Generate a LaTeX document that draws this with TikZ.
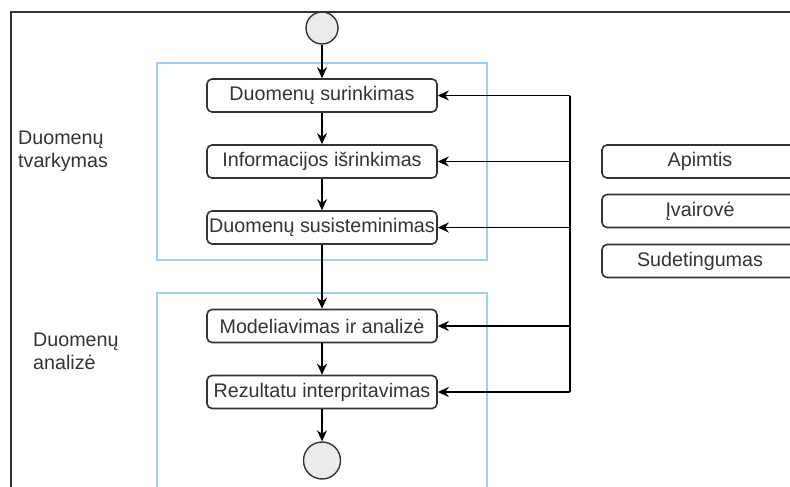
\documentclass[tikz,border=0pt]{standalone}
\usepackage{fontspec}
\setmainfont{Liberation Sans}
\usepackage{xcolor}
\usetikzlibrary{positioning,arrows.meta}

\definecolor{boxline}{RGB}{51,51,51}
\definecolor{groupline}{RGB}{160,205,255}
\definecolor{termfill}{RGB}{235,235,235}

\begin{document}
\begin{tikzpicture}[x=1pt, y=-1pt, node distance=66pt, on grid,
    activity/.style={draw=boxline, line width=1.6pt, rounded corners=5pt,
        minimum width=230pt, minimum height=33pt, inner sep=0pt,
        text=boxline, font=\fontsize{19.7}{23}\selectfont},
    aspect/.style={activity, minimum width=196pt},
    terminal/.style={circle, draw=boxline, line width=1.4pt, fill=termfill,
        minimum size=32pt, inner sep=0pt},
    phase/.style={align=left, anchor=west, inner sep=0pt, text=boxline,
        font=\fontsize{19.7}{23}\selectfont},
    group/.style={draw=groupline, line width=1.4pt},
    flow/.style={-{Stealth[length=11pt, width=10pt]}, line width=1.6pt}]

    \useasboundingbox (0,0) rectangle (790,487);
    \clip (0,0) rectangle (790,487);

    % screenshot edge
    \draw[boxline, line width=1.3pt] (11,487) -- (11,12) -- (790,12);

    % phases
    \draw[group] (157,63) rectangle (487,260);
    \draw[group] (157,293) rectangle (487,500);
    \node[phase] (p1) at (18,151.5) {Duomenų\\tvarkymas};
    \node[phase] (p2) at (33,351.5) {Duomenų\\analizė};

    % main flow
    \node[terminal] (start) at (322,28) {};
    \node[activity, below=67.5pt of start] (dc) {Duomenų surinkimas};
    \node[activity, below=of dc] (ie) {Informacijos išrinkimas};
    \node[activity, below=of ie] (ds) {Duomenų susisteminimas};
    \node[activity, below=98.5pt of ds] (ma) {Modeliavimas ir analizė};
    \node[activity, below=of ma] (ri) {Rezultatu interpritavimas};
    \node[terminal, minimum size=37pt, below=68.5pt of ri] (end) {};

    \draw[flow] (start) -- (dc);
    \draw[flow] (dc) -- (ie);
    \draw[flow] (ie) -- (ds);
    \draw[flow] (ds) -- (ma);
    \draw[flow] (ma) -- (ri);
    \draw[flow] (ri) -- (end);

    % aspects
    \node[aspect] (ap) at (700,161.5) {Apimtis};
    \node[aspect, below=49.5pt of ap] (iv) {Įvairovė};
    \node[aspect, below=50pt of iv] (su) {Sudetingumas};

    % feedback bus
    \coordinate (bus) at (570,0);
    \draw[line width=1.6pt] (dc.east -| bus) -- (ri.east -| bus);
    \foreach \n in {dc,ie,ds,ma,ri}
        \draw[flow] (\n.east -| bus) -- (\n.east);

\end{tikzpicture}
\end{document}
